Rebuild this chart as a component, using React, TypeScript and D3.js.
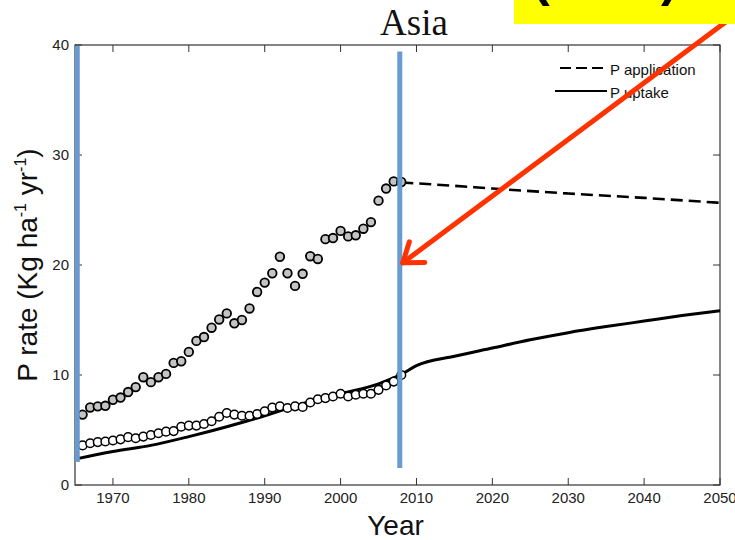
import React from "react";
import * as d3 from "d3";

const W = 735;
const H = 540;
const M = { top: 45, right: 15, bottom: 55, left: 75 };

// observed (FAO) points, 1966-2008
const OBS_YEARS = [
  1966, 1967, 1968, 1969, 1970, 1971, 1972, 1973, 1974, 1975, 1976, 1977, 1978, 1979, 1980,
  1981, 1982, 1983, 1984, 1985, 1986, 1987, 1988, 1989, 1990, 1991, 1992, 1993, 1994, 1995,
  1996, 1997, 1998, 1999, 2000, 2001, 2002, 2003, 2004, 2005, 2006, 2007, 2008,
];
const APP_OBS = [
  6.4, 7.05, 7.15, 7.2, 7.75, 7.95, 8.45, 8.9, 9.8, 9.35, 9.8, 10.1, 11.1, 11.25, 12.1,
  13.1, 13.45, 14.3, 15.05, 15.6, 14.7, 15.0, 16.05, 17.55, 18.4, 19.25, 20.75, 19.25, 18.1, 19.2,
  20.8, 20.55, 22.35, 22.45, 23.1, 22.6, 22.7, 23.3, 23.9, 25.85, 26.95, 27.6, 27.55,
];
const UPT_OBS = [
  3.6, 3.8, 3.9, 3.95, 4.05, 4.15, 4.35, 4.25, 4.4, 4.55, 4.7, 4.85, 4.9, 5.3, 5.4,
  5.4, 5.55, 5.8, 6.2, 6.55, 6.4, 6.3, 6.3, 6.45, 6.7, 7.05, 7.15, 7.0, 7.15, 7.1,
  7.5, 7.8, 7.9, 8.05, 8.3, 8.05, 8.2, 8.3, 8.3, 8.65, 9.05, 9.4, 10.0,
];

// modelled P uptake
const UPT_YEARS = [1965, 1970, 1975, 1980, 1985, 1990, 1995, 2000, 2005, 2008, 2010, 2015, 2020, 2025, 2030, 2035, 2040, 2045, 2050];
const UPT_MODEL = [2.35, 3.05, 3.6, 4.4, 5.3, 6.3, 7.4, 8.3, 9.2, 10.05, 10.85, 11.7, 12.45, 13.2, 13.85, 14.4, 14.9, 15.4, 15.85];

// projected P application
const APP_YEARS = [2008, 2015, 2020, 2030, 2040, 2050];
const APP_PROJ = [27.5, 27.2, 26.95, 26.5, 26.1, 25.65];

const X_TICKS = [1970, 1980, 1990, 2000, 2010, 2020, 2030, 2040, 2050];
const Y_TICKS = [0, 10, 20, 30, 40];

// blue marker bars [year, yFrom, yTo]
const MARKERS: [number, number, number][] = [
  [1965.3, 2.1, 39.9],
  [2007.8, 1.55, 39.4],
];

const BLUE = "#6a9bd0";
const RED = "#ff3300";
const SANS = "Arial, 'Liberation Sans', sans-serif";

export default function App() {
  const x = d3.scaleLinear().domain([1965, 2050]).range([M.left, W - M.right]);
  const y = d3.scaleLinear().domain([0, 40]).range([H - M.bottom, M.top]);
  const [x0, x1] = x.range();
  const [yb, yt] = y.range();

  const line = d3
    .line<[number, number]>()
    .x(d => x(d[0]))
    .y(d => y(d[1]))
    .curve(d3.curveMonotoneX);

  const uptPath = line(UPT_YEARS.map((yr, i) => [yr, UPT_MODEL[i]]))!;
  const appPath = line(APP_YEARS.map((yr, i) => [yr, APP_PROJ[i]]))!;

  // arrow geometry
  const ax0 = 727, ay0 = 21, ax1 = x(2008.2), ay1 = y(20.2);
  const ang = Math.atan2(ay0 - ay1, ax0 - ax1);
  const head = 22;
  const spread = (36 * Math.PI) / 180;

  return (
    <svg
      width={W}
      height={H}
      style={{ position: "absolute", left: 0, top: 0, background: "#fff" }}
    >
      <rect x={0} y={0} width={W} height={H} fill="#fff" />

      {/* title */}
      <text
        x={414}
        y={35}
        textAnchor="middle"
        fontFamily="'Liberation Serif', 'Times New Roman', serif"
        fontSize={37}
        fill="#111"
      >
        Asia
      </text>

      {/* axes box */}
      <rect x={x0} y={yt} width={x1 - x0} height={yb - yt} fill="none" stroke="#333" strokeWidth={1.2} />
      {X_TICKS.map(t => (
        <g key={t}>
          <line x1={x(t)} x2={x(t)} y1={yb} y2={yb - 7} stroke="#333" />
          <line x1={x(t)} x2={x(t)} y1={yt} y2={yt + 7} stroke="#333" />
          <text x={x(t)} y={yb + 18} textAnchor="middle" fontFamily={SANS} fontSize={15} fill="#222">
            {t}
          </text>
        </g>
      ))}
      {Y_TICKS.map(t => (
        <g key={t}>
          <line x1={x0} x2={x0 + 7} y1={y(t)} y2={y(t)} stroke="#333" />
          <line x1={x1} x2={x1 - 7} y1={y(t)} y2={y(t)} stroke="#333" />
          <text x={x0 - 6} y={y(t) + 5} textAnchor="end" fontFamily={SANS} fontSize={15} fill="#222">
            {t}
          </text>
        </g>
      ))}

      {/* axis titles */}
      <text x={(x0 + x1) / 2 - 2} y={535} textAnchor="middle" fontFamily={SANS} fontSize={28} fill="#111">
        Year
      </text>
      <text
        transform={`translate(37,${(yb + yt) / 2}) rotate(-90)`}
        textAnchor="middle"
        fontFamily={SANS}
        fontSize={28}
        fill="#111"
      >
        P rate (Kg ha
        <tspan dy={-11} fontSize={16}>-1</tspan>
        <tspan dy={11}> yr</tspan>
        <tspan dy={-11} fontSize={16}>-1</tspan>
        <tspan dy={11}>)</tspan>
      </text>

      {/* model lines */}
      <path d={uptPath} fill="none" stroke="#000" strokeWidth={3} strokeLinejoin="round" />
      <path d={appPath} fill="none" stroke="#000" strokeWidth={2.6} strokeDasharray="12,6" />

      {/* observed points */}
      {OBS_YEARS.map((yr, i) => (
        <circle key={`u${yr}`} cx={x(yr)} cy={y(UPT_OBS[i])} r={4.3} fill="#fff" stroke="#000" strokeWidth={1.5} />
      ))}
      {OBS_YEARS.map((yr, i) => (
        <circle key={`a${yr}`} cx={x(yr)} cy={y(APP_OBS[i])} r={4.3} fill="#c4c4c4" stroke="#000" strokeWidth={1.8} />
      ))}

      {/* legend */}
      <g fontFamily={SANS} fontSize={15} fill="#111">
        <line x1={560} x2={607} y1={68} y2={68} stroke="#000" strokeWidth={2.2} strokeDasharray="11,5" />
        <text x={610} y={75}>P application</text>
        <line x1={555} x2={607} y1={91} y2={91} stroke="#000" strokeWidth={2.2} />
        <text x={610} y={98}>P uptake</text>
      </g>

      {/* blue marker bars */}
      {MARKERS.map(([yr, a, b]) => (
        <line key={yr} x1={x(yr)} x2={x(yr)} y1={y(a)} y2={y(b)} stroke={BLUE} strokeWidth={5} />
      ))}

      {/* red arrow */}
      <g stroke={RED} strokeWidth={5} strokeLinecap="round" fill="none">
        <line x1={ax0} y1={ay0} x2={ax1} y2={ay1} />
        <polyline
          points={[
            [ax1 + head * Math.cos(ang - spread), ay1 + head * Math.sin(ang - spread)],
            [ax1, ay1],
            [ax1 + head * Math.cos(ang + spread), ay1 + head * Math.sin(ang + spread)],
          ]
            .map(p => p.join(","))
            .join(" ")}
          strokeLinejoin="round"
        />
      </g>

      {/* yellow callout box (cut off at top) */}
      <rect x={514} y={-10} width={W - 514} height={34} fill="#ffff00" />
      <text x={533} y={-4} fontFamily={SANS} fontSize={50} fontWeight="bold" fill="#000">
        (2008) /
      </text>
    </svg>
  );
}
